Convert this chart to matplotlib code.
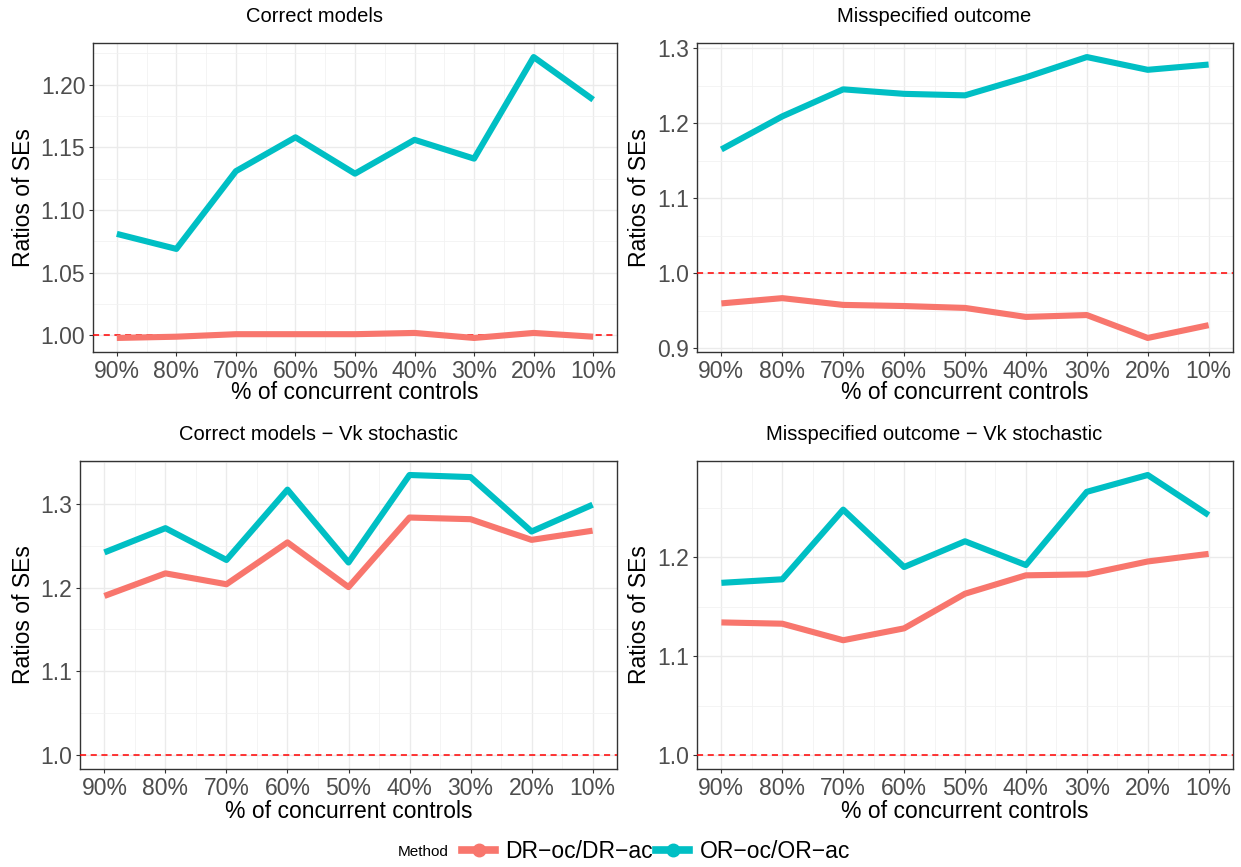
import matplotlib
matplotlib.use("Agg")
import matplotlib.pyplot as plt
from matplotlib.lines import Line2D
from matplotlib.ticker import FixedLocator, FormatStrFormatter

plt.rcParams['font.family'] = ['Liberation Sans', 'DejaVu Sans']

# data
pct_labels = ['90%', '80%', '70%', '60%', '50%', '40%', '30%', '20%', '10%']
methods = ['DR−oc/DR−ac', 'OR−oc/OR−ac']
colors = ['#F8766D', '#00BFC4']

titles = ['Correct models', 'Misspecified outcome',
          'Correct models − Vk stochastic', 'Misspecified outcome − Vk stochastic']

dr_correct = [0.998, 0.999, 1.001, 1.001, 1.001, 1.002, 0.998, 1.002, 0.999]
or_correct = [1.081, 1.069, 1.131, 1.158, 1.129, 1.156, 1.141, 1.222, 1.188]

dr_missp = [0.960, 0.967, 0.958, 0.9565, 0.954, 0.942, 0.9445, 0.914, 0.931]
or_missp = [1.165, 1.209, 1.245, 1.239, 1.237, 1.261, 1.288, 1.271, 1.278]

dr_correct_vk = [1.190, 1.217, 1.204, 1.254, 1.2006, 1.2837, 1.2817, 1.257, 1.268]
or_correct_vk = [1.242, 1.271, 1.233, 1.317, 1.230, 1.3345, 1.332, 1.267, 1.299]

dr_missp_vk = [1.134, 1.1327, 1.116, 1.128, 1.163, 1.1816, 1.1826, 1.1956, 1.2033]
or_missp_vk = [1.174, 1.1776, 1.248, 1.190, 1.216, 1.192, 1.266, 1.283, 1.2425]

panels = [(dr_correct, or_correct), (dr_missp, or_missp),
          (dr_correct_vk, or_correct_vk), (dr_missp_vk, or_missp_vk)]

# y breaks per panel (major, minor, label format)
y_major = [[1.00, 1.05, 1.10, 1.15, 1.20],
           [0.9, 1.0, 1.1, 1.2, 1.3],
           [1.0, 1.1, 1.2, 1.3],
           [1.0, 1.1, 1.2]]
y_minor = [[0.975, 1.025, 1.075, 1.125, 1.175, 1.225],
           [0.95, 1.05, 1.15, 1.25],
           [1.05, 1.15, 1.25, 1.35],
           [1.05, 1.15, 1.25]]
y_fmt = ['%.2f', '%.1f', '%.1f', '%.1f']

W, H = 1241, 867
fig = plt.figure(figsize=(W / 100, H / 100), dpi=100)

# panel boxes in pixels: left, top, right, bottom
boxes = [(93, 43, 617, 352), (697, 43, 1233, 352),
         (80, 461, 617, 769), (697, 461, 1233, 769)]
title_pos = [(314, 17), (934, 17), (318, 435), (934, 435)]
ylab_x = [24, 640, 24, 640]
xlab_y = [393, 393, 812, 812]

x = list(range(1, len(pct_labels) + 1))

for i, (l, t, r, b) in enumerate(boxes):
    ax = fig.add_axes([l / W, 1 - b / H, (r - l) / W, (b - t) / H])
    dr, orr = panels[i]

    ax.axhline(1.0, color='#FF0000', lw=1.1, ls=(0, (4, 3)), zorder=3)
    ax.plot(x, dr, color=colors[0], lw=4.4, solid_capstyle='butt', zorder=4)
    ax.plot(x, orr, color=colors[1], lw=4.4, solid_capstyle='butt', zorder=4)

    lo = min(min(dr), min(orr), 1.0)
    hi = max(max(dr), max(orr), 1.0)
    pad = 0.05 * (hi - lo)
    ax.set_ylim(lo - pad, hi + pad)
    ax.set_xlim(0.6, 9.4)

    ax.xaxis.set_major_locator(FixedLocator(x))
    ax.xaxis.set_minor_locator(FixedLocator([v + 0.5 for v in x[:-1]]))
    ax.set_xticklabels(pct_labels)
    ax.yaxis.set_major_locator(FixedLocator(y_major[i]))
    ax.yaxis.set_minor_locator(FixedLocator(y_minor[i]))
    ax.yaxis.set_major_formatter(FormatStrFormatter(y_fmt[i]))

    ax.grid(which='major', color='#EBEBEB', lw=1.0, zorder=0)
    ax.grid(which='minor', color='#F2F2F2', lw=0.6, zorder=0)
    ax.set_axisbelow(True)
    ax.tick_params(which='major', length=3, width=0.8, color='#333333',
                   labelsize=16.5, labelcolor='#4D4D4D', pad=2.5)
    ax.tick_params(which='minor', length=0)
    for s in ax.spines.values():
        s.set_color('#333333')
        s.set_linewidth(1.0)

    ax.set_ylabel('Ratios of SEs', fontsize=16.5, color='black')
    ax.yaxis.set_label_coords((ylab_x[i] - l) / (r - l), 0.5)
    ax.yaxis.label.set_verticalalignment('center')
    ax.set_xlabel('% of concurrent controls', fontsize=16.5, color='black')
    ax.xaxis.set_label_coords(0.5, -(xlab_y[i] - b) / (b - t))
    ax.xaxis.label.set_verticalalignment('center')

    tx, ty = title_pos[i]
    fig.text(tx / W, 1 - ty / H, titles[i], fontsize=14.5, ha='center', va='center')

# legend along the bottom
fig.text(398 / W, 1 - 852 / H, 'Method', fontsize=11, ha='left', va='center')
handles = [Line2D([], [], color=c, lw=5.5, marker='o', markersize=9) for c in colors]
fig.legend(handles, methods, loc='center left', bbox_to_anchor=(462 / W, 1 - 852 / H),
           ncol=2, frameon=False, fontsize=16.5, handlelength=1.45, handletextpad=0.45,
           columnspacing=0.12, borderpad=0, borderaxespad=0)

fig.savefig('out.png', dpi=100)
